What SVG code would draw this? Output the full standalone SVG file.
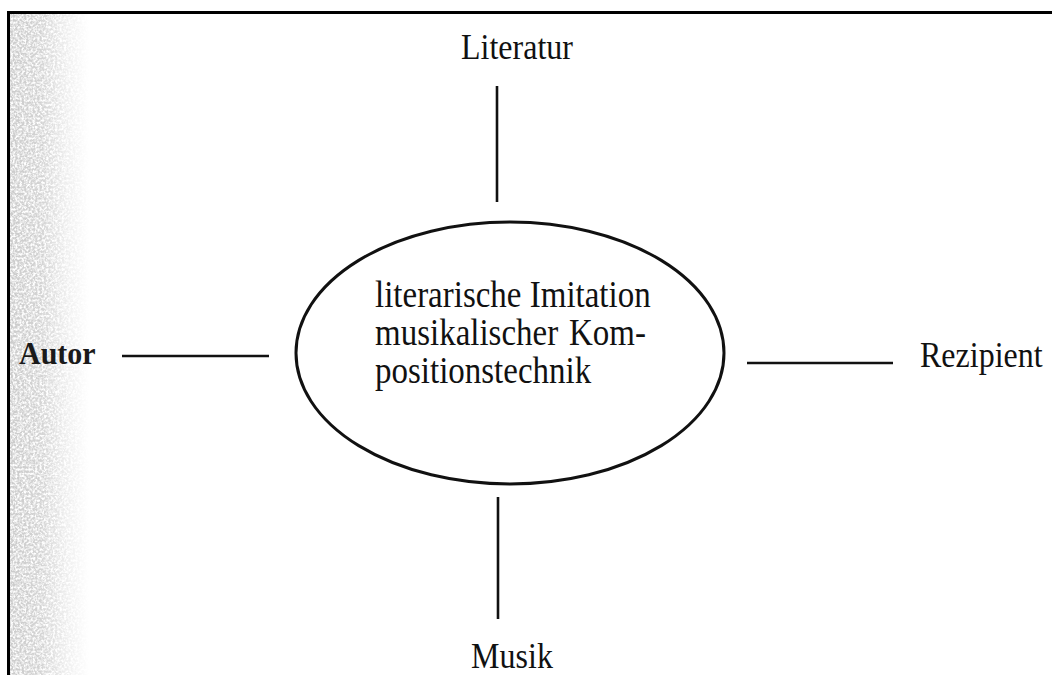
<svg xmlns="http://www.w3.org/2000/svg" width="1052" height="675" viewBox="0 0 1052 675">
  <style>
    .lbl { font-family: "Liberation Serif", "Times New Roman", serif; font-size: 32px; fill: #111; }
    .inner { font-size: 33px; }
    .bold { font-weight: bold; font-size: 30px; fill: #1a1a1a; }
    .edge { stroke: #111; stroke-width: 2.6; fill: none; stroke-linecap: butt; }
    .frame { stroke: #000; stroke-width: 3; fill: none; }
  </style>
  <defs>
    <linearGradient id="fade" x1="0" y1="0" x2="1" y2="0">
      <stop offset="0" stop-color="#000" stop-opacity="1"/>
      <stop offset="0.4" stop-color="#000" stop-opacity="0.85"/>
      <stop offset="0.7" stop-color="#000" stop-opacity="0.35"/>
      <stop offset="1" stop-color="#000" stop-opacity="0"/>
    </linearGradient>
    <filter id="grain" x="0" y="0" width="100%" height="100%">
      <feTurbulence type="fractalNoise" baseFrequency="0.45" numOctaves="3" seed="7" result="n"/>
      <feColorMatrix in="n" type="matrix" values="0 0 0 0 0.6  0 0 0 0 0.6  0 0 0 0 0.6  0 0 0 2.6 -0.7" result="g"/>
      <feComposite in="g" in2="SourceGraphic" operator="in"/>
    </filter>
  </defs>

  <rect width="1052" height="675" fill="#fff"/>

  <!-- grainy margin along the left edge -->
  <rect x="9" y="14" width="80" height="661" fill="url(#fade)" filter="url(#grain)"/>

  <!-- page frame -->
  <path class="frame" d="M8.5 675 V12.5 H1052"/>

  <g id="connectors">
    <line class="edge" x1="497" y1="86" x2="497" y2="202"/>
    <line class="edge" x1="498" y1="497" x2="498" y2="619"/>
    <line class="edge" x1="122" y1="356" x2="269" y2="356"/>
    <line class="edge" x1="747" y1="363" x2="893" y2="363"/>
  </g>

  <!-- labels are set slightly tall (narrow serif face) -->
  <g id="center">
    <ellipse cx="510" cy="353" rx="214" ry="131" fill="none" stroke="#111" stroke-width="3"/>
    <text class="lbl inner" transform="translate(375 307) scale(1 1.12)">literarische Imitation</text>
    <text class="lbl inner" transform="translate(375 345) scale(1 1.12)">musikalischer<tspan x="194">Kom-</tspan></text>
    <text class="lbl inner" transform="translate(375 383) scale(1 1.12)">positionstechnik</text>
  </g>

  <g id="literatur">
    <text class="lbl" text-anchor="middle" transform="translate(517 59) scale(1 1.12)">Literatur</text>
  </g>

  <g id="autor">
    <text class="lbl bold" transform="translate(19 364) scale(1 1.08)">Autor</text>
  </g>

  <g id="rezipient">
    <text class="lbl" transform="translate(920 367) scale(1 1.12)">Rezipient</text>
  </g>

  <g id="musik">
    <text class="lbl" text-anchor="middle" transform="translate(512 668) scale(1 1.12)">Musik</text>
  </g>
</svg>
